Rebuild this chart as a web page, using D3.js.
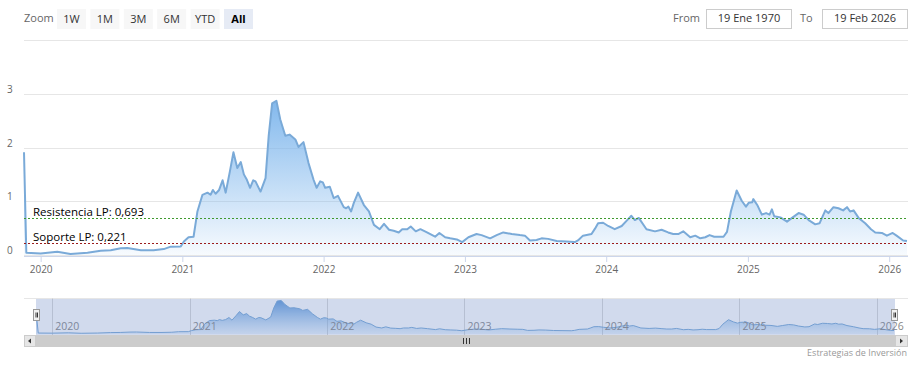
<!DOCTYPE html>
<html>
<head>
<meta charset="utf-8">
<script src="https://cdn.jsdelivr.net/npm/d3@7"></script>
<style>
  body { margin: 0; background: #fff; }
  text { font-family: "Open Sans", sans-serif; }
</style>
</head>
<body>
<div id="chart"></div>
<script>
// Data
var dates = ["2019-11-19","2019-11-25","2020-01-01","2020-02-13","2020-03-18","2020-05-01","2020-06-04","2020-06-30","2020-07-26","2020-08-12",
  "2020-09-16","2020-10-19","2020-11-14","2020-12-02","2020-12-28","2021-01-05","2021-01-17","2021-01-30","2021-02-09","2021-02-22",
  "2021-03-07","2021-03-15","2021-03-21","2021-03-28","2021-04-06","2021-04-15","2021-04-23","2021-05-04","2021-05-13","2021-05-23",
  "2021-06-01","2021-06-09","2021-06-16","2021-06-25","2021-07-03","2021-07-09","2021-07-22","2021-08-04","2021-08-12","2021-08-21",
  "2021-09-01","2021-09-11","2021-09-24","2021-10-05","2021-10-20","2021-10-28","2021-11-10","2021-11-23","2021-12-06","2021-12-14",
  "2021-12-23","2021-12-30","2022-01-05","2022-01-17","2022-01-27","2022-02-07","2022-02-22","2022-02-28","2022-03-06","2022-03-13",
  "2022-03-20","2022-03-31","2022-04-15","2022-04-28","2022-05-11","2022-05-26","2022-06-06","2022-06-19","2022-07-01","2022-07-14",
  "2022-07-23","2022-08-05","2022-08-14","2022-08-27","2022-09-08","2022-09-25","2022-10-16","2022-10-27","2022-11-11","2022-11-24",
  "2022-12-11","2022-12-25","2023-01-10","2023-01-31","2023-02-13","2023-03-07","2023-03-24","2023-04-10","2023-05-02","2023-05-23",
  "2023-06-05","2023-06-18","2023-07-05","2023-07-18","2023-08-04","2023-08-26","2023-09-20","2023-10-12","2023-10-20","2023-11-02",
  "2023-11-24","2023-12-03","2023-12-11","2023-12-24","2024-01-06","2024-01-23","2024-02-10","2024-02-23","2024-03-06","2024-03-15",
  "2024-03-25","2024-04-14","2024-05-06","2024-05-23","2024-06-09","2024-06-22","2024-07-05","2024-07-18","2024-08-05","2024-08-18",
  "2024-08-31","2024-09-13","2024-09-24","2024-10-06","2024-10-30","2024-11-08","2024-11-18","2024-12-03","2024-12-16","2024-12-27",
  "2025-01-03","2025-01-12","2025-01-15","2025-01-26","2025-02-06","2025-02-17","2025-02-26","2025-03-04","2025-03-10","2025-03-26",
  "2025-04-12","2025-04-25","2025-05-12","2025-05-25","2025-06-07","2025-06-24","2025-07-05","2025-07-20","2025-07-28","2025-08-10",
  "2025-08-23","2025-09-04","2025-09-14","2025-09-22","2025-10-01","2025-10-14","2025-10-31","2025-11-15","2025-11-26","2025-12-13",
  "2025-12-26","2026-01-10","2026-01-20","2026-02-06","2026-02-16"];

var values = [1.91,0.04,0.03,0.06,0.02,0.04,0.08,0.09,0.125,0.13,
  0.09,0.09,0.11,0.155,0.16,0.25,0.33,0.34,0.81,1.12,
  1.16,1.12,1.21,1.14,1.21,1.39,1.16,1.56,1.91,1.62,
  1.73,1.50,1.41,1.25,1.39,1.37,1.18,1.43,2.21,2.82,
  2.87,2.52,2.22,2.24,2.15,2.01,2.10,1.71,1.40,1.25,
  1.37,1.35,1.25,1.27,1.06,1.10,0.89,0.87,0.90,0.81,
  0.97,1.16,0.93,0.81,0.56,0.48,0.58,0.47,0.45,0.42,
  0.48,0.48,0.53,0.44,0.48,0.42,0.34,0.41,0.33,0.31,
  0.29,0.24,0.33,0.39,0.37,0.31,0.37,0.42,0.39,0.37,
  0.36,0.27,0.28,0.31,0.30,0.26,0.25,0.24,0.27,0.36,
  0.39,0.49,0.59,0.60,0.54,0.48,0.54,0.64,0.73,0.65,
  0.69,0.48,0.44,0.47,0.42,0.39,0.39,0.44,0.33,0.36,
  0.31,0.33,0.37,0.34,0.34,0.43,0.81,1.20,1.01,0.90,
  0.97,0.98,1.04,0.92,0.75,0.78,0.75,0.85,0.72,0.70,
  0.62,0.69,0.78,0.75,0.65,0.57,0.59,0.83,0.78,0.89,
  0.87,0.83,0.89,0.81,0.83,0.69,0.59,0.48,0.42,0.41,
  0.36,0.41,0.36,0.27,0.26];

var yTicks = [0, 1, 2, 3, 4];
var yTickLabels = ["0", "1", "2", "3", ""];
var zoomButtons = ["1W", "1M", "3M", "6M", "YTD", "All"];
var selectedButton = "All";
var fromLabel = "19 Ene 1970";
var toLabel = "19 Feb 2026";
var supportLevel = 0.221;
var resistanceLevel = 0.693;
var creditText = "Estrategias de Inversión";

// SVG area
var svgWidth = 917;
var svgHeight = 365;

var plot = { left: 24, right: 908, top: 40, bottom: 255 };
var nav = { left: 36, right: 895, top: 298, bottom: 335 };

var parseDate = d3.timeParse("%Y-%m-%d");
var data = dates.map(function(d, i) {
  return { date: parseDate(d), value: values[i] };
});

var svg = d3.select("#chart")
  .append("svg")
  .attr("width", svgWidth)
  .attr("height", svgHeight);

svg.append("rect").attr("width", svgWidth).attr("height", svgHeight).attr("fill", "#fff");

// gradient for the area
var defs = svg.append("defs");
var grad = defs.append("linearGradient")
  .attr("id", "areaFill")
  .attr("x1", 0).attr("y1", 0).attr("x2", 0).attr("y2", 1);
grad.append("stop").attr("offset", "0%").attr("stop-color", "#7cb5ec").attr("stop-opacity", 0.95);
grad.append("stop").attr("offset", "100%").attr("stop-color", "#7cb5ec").attr("stop-opacity", 0.06);

var navGrad = defs.append("linearGradient")
  .attr("id", "navFill")
  .attr("x1", 0).attr("y1", 0).attr("x2", 0).attr("y2", 1);
navGrad.append("stop").attr("offset", "0%").attr("stop-color", "#4f8fd6").attr("stop-opacity", 0.9);
navGrad.append("stop").attr("offset", "100%").attr("stop-color", "#7cb5ec").attr("stop-opacity", 0.15);

// scales
var xScale = d3.scaleTime()
  .domain(d3.extent(data, d => d.date))
  .range([plot.left, 907]);

var yScale = d3.scaleLinear()
  .domain([0, 4])
  .range([plot.bottom, plot.top]);

// ---------- range selector ----------
var header = svg.append("g");
header.append("text")
  .attr("x", 24).attr("y", 22)
  .attr("font-size", 11).attr("fill", "#666")
  .text("Zoom");

var btn = header.selectAll(".btn")
  .data(zoomButtons)
  .enter()
  .append("g")
  .attr("transform", (d, i) => `translate(${57 + i * 33.4}, 9)`);

btn.append("rect")
  .attr("width", 29).attr("height", 20)
  .attr("fill", d => d === selectedButton ? "#e6ebf5" : "#f7f7f7");

btn.append("text")
  .attr("x", 14.5).attr("y", 14)
  .attr("text-anchor", "middle")
  .attr("font-size", 11)
  .attr("font-weight", d => d === selectedButton ? "bold" : "normal")
  .attr("fill", d => d === selectedButton ? "#000" : "#333")
  .text(d => d);

header.append("text").attr("x", 673).attr("y", 22).attr("font-size", 11).attr("fill", "#666").text("From");
header.append("rect").attr("x", 706.5).attr("y", 9.5).attr("width", 85).attr("height", 19)
  .attr("fill", "#fff").attr("stroke", "#ccc");
header.append("text").attr("x", 749).attr("y", 22).attr("text-anchor", "middle")
  .attr("font-size", 11).attr("fill", "#333").text(fromLabel);

header.append("text").attr("x", 800).attr("y", 22).attr("font-size", 11).attr("fill", "#666").text("To");
header.append("rect").attr("x", 822.5).attr("y", 9.5).attr("width", 85).attr("height", 19)
  .attr("fill", "#fff").attr("stroke", "#ccc");
header.append("text").attr("x", 865).attr("y", 22).attr("text-anchor", "middle")
  .attr("font-size", 11).attr("fill", "#333").text(toLabel);

// ---------- main chart ----------
var chartGroup = svg.append("g");

chartGroup.selectAll(".grid")
  .data(yTicks)
  .enter()
  .append("line")
  .attr("x1", plot.left).attr("x2", plot.right)
  .attr("y1", d => Math.round(yScale(d)) + 0.5)
  .attr("y2", d => Math.round(yScale(d)) + 0.5)
  .attr("stroke", "#e6e6e6");

chartGroup.selectAll(".ylab")
  .data(yTicks)
  .enter()
  .append("text")
  .attr("x", 7)
  .attr("y", d => yScale(d) - 1)
  .attr("font-size", 10)
  .attr("fill", "#666")
  .text((d, i) => yTickLabels[i]);

var area = d3.area()
  .x(d => xScale(d.date))
  .y0(yScale(0))
  .y1(d => yScale(d.value));

var line = d3.line()
  .x(d => xScale(d.date))
  .y(d => yScale(d.value));

chartGroup.append("path")
  .datum(data)
  .attr("d", area)
  .attr("fill", "url(#areaFill)");

chartGroup.append("path")
  .datum(data)
  .attr("d", line)
  .attr("fill", "none")
  .attr("stroke", "#7aaad8")
  .attr("stroke-width", 2)
  .attr("stroke-linejoin", "round");

// support / resistance
var rY = Math.round(yScale(resistanceLevel)) + 0.5;
var sY = Math.round(yScale(supportLevel)) + 0.5;
chartGroup.append("line")
  .attr("x1", plot.left).attr("x2", plot.right)
  .attr("y1", rY).attr("y2", rY)
  .attr("stroke", "#3f9a2f").attr("stroke-dasharray", "2,2");
chartGroup.append("line")
  .attr("x1", plot.left).attr("x2", plot.right)
  .attr("y1", sY).attr("y2", sY)
  .attr("stroke", "#9b1c1c").attr("stroke-dasharray", "2,2");

chartGroup.append("text")
  .attr("x", 33).attr("y", rY - 3)
  .attr("font-size", 11.5).attr("fill", "#000")
  .text("Resistencia LP: " + String(resistanceLevel).replace(".", ","));
chartGroup.append("text")
  .attr("x", 33).attr("y", sY - 3)
  .attr("font-size", 11.5).attr("fill", "#000")
  .text("Soporte LP: " + String(supportLevel).replace(".", ","));

// x axis
var bottomAxis = d3.axisBottom(xScale)
  .ticks(d3.timeYear.every(1))
  .tickFormat(d3.timeFormat("%Y"))
  .tickSize(6)
  .tickSizeOuter(0)
  .tickPadding(4);

var xAxisG = chartGroup.append("g")
  .attr("transform", `translate(0, ${plot.bottom + 1})`)
  .call(bottomAxis);
xAxisG.select(".domain").attr("stroke", "#ccd6eb").attr("d", `M${plot.left},0.5H${plot.right}`);
xAxisG.selectAll(".tick line").attr("stroke", "#ccd6eb");
xAxisG.selectAll(".tick text")
  .attr("font-family", "'Open Sans', sans-serif")
  .attr("font-size", 10).attr("fill", "#666");

// ---------- navigator ----------
var navX = d3.scaleTime()
  .domain(d3.extent(data, d => d.date))
  .range([nav.left, nav.right - 1]);
var navY = d3.scaleLinear()
  .domain([0, d3.max(data, d => d.value)])
  .range([333.5, 300.5]);

var navGroup = svg.append("g");

navGroup.append("line")
  .attr("x1", plot.left).attr("x2", plot.right)
  .attr("y1", nav.top + 0.5).attr("y2", nav.top + 0.5)
  .attr("stroke", "#e6e6e6");

var navYears = navX.ticks(d3.timeYear.every(1));
navGroup.selectAll(".navgrid")
  .data(navYears)
  .enter()
  .append("line")
  .attr("x1", d => Math.round(navX(d)) + 0.5).attr("x2", d => Math.round(navX(d)) + 0.5)
  .attr("y1", nav.top).attr("y2", nav.bottom)
  .attr("stroke", "#d8d8d8");

navGroup.append("path")
  .datum(data)
  .attr("d", d3.area().x(d => navX(d.date)).y0(nav.bottom - 1).y1(d => navY(d.value)))
  .attr("fill", "url(#navFill)");
navGroup.append("path")
  .datum(data)
  .attr("d", d3.line().x(d => navX(d.date)).y(d => navY(d.value)))
  .attr("fill", "none")
  .attr("stroke", "#7aaad8")
  .attr("stroke-width", 1);

navGroup.selectAll(".navlab")
  .data(navYears)
  .enter()
  .append("text")
  .attr("x", d => navX(d) + 3)
  .attr("y", 330)
  .attr("font-size", 10.5)
  .attr("fill", "#888")
  .text(d3.timeFormat("%Y"));

// mask over selected range
navGroup.append("rect")
  .attr("x", nav.left).attr("y", nav.top + 1)
  .attr("width", nav.right - nav.left).attr("height", nav.bottom - nav.top - 1)
  .attr("fill", "rgba(102,133,194,0.3)");

// handles
[nav.left - 2.5, nav.right - 3.5].forEach(function(hx) {
  var h = navGroup.append("g").attr("transform", `translate(${hx}, 309.5)`);
  h.append("rect").attr("width", 6).attr("height", 11).attr("fill", "#f2f2f2").attr("stroke", "#999");
  h.append("line").attr("x1", 2.5).attr("x2", 2.5).attr("y1", 3).attr("y2", 8).attr("stroke", "#333");
  h.append("line").attr("x1", 4).attr("x2", 4).attr("y1", 3).attr("y2", 8).attr("stroke", "#333");
});

// scrollbar
var sb = svg.append("g").attr("transform", "translate(0, 335)");
sb.append("rect").attr("x", plot.left).attr("width", plot.right - plot.left).attr("height", 12).attr("fill", "#f2f2f2");
sb.append("rect").attr("x", nav.left).attr("width", nav.right - nav.left).attr("height", 12).attr("fill", "#cccccc");
sb.append("rect").attr("x", plot.left + 0.5).attr("y", 0.5).attr("width", 11).attr("height", 11).attr("fill", "#e6e6e6").attr("stroke", "#ccc");
sb.append("rect").attr("x", nav.right + 0.5).attr("y", 0.5).attr("width", 12).attr("height", 11).attr("fill", "#e6e6e6").attr("stroke", "#ccc");
sb.append("path").attr("d", "M31,3.5L28,6L31,8.5Z").attr("fill", "#333");
sb.append("path").attr("d", "M900,3.5L903,6L900,8.5Z").attr("fill", "#333");
var gx = Math.round((nav.left + nav.right) / 2);
[-3, 0, 3].forEach(function(o) {
  sb.append("line").attr("x1", gx + o + 0.5).attr("x2", gx + o + 0.5).attr("y1", 3).attr("y2", 9).attr("stroke", "#333");
});

// credit
svg.append("text")
  .attr("x", 907).attr("y", 356)
  .attr("text-anchor", "end")
  .attr("font-size", 9).attr("fill", "#999")
  .text(creditText);
</script>
</body>
</html>
